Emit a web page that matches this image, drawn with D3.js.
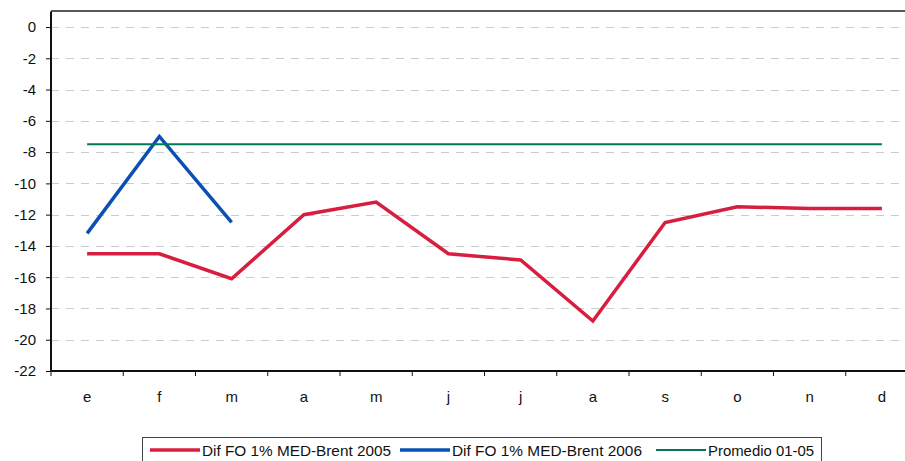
<!DOCTYPE html>
<html>
<head>
<meta charset="utf-8">
<script src="https://cdn.jsdelivr.net/npm/d3@7"></script>
<style>
  html, body { margin: 0; padding: 0; background: #fff; }
  svg { display: block; font-family: "Liberation Sans", Arial, sans-serif; }
</style>
</head>
<body>
<svg id="chart" width="905" height="461"></svg>
<script>
// months (Spanish initials)
const months = ["e", "f", "m", "a", "m", "j", "j", "a", "s", "o", "n", "d"];
const dif2005 = [-14.5, -14.5, -16.1, -12.0, -11.2, -14.5, -14.9, -18.8, -12.5, -11.5, -11.6, -11.6];
const dif2006 = [-13.2, -7.0, -12.5];
const promedio = [-7.5, -7.5, -7.5, -7.5, -7.5, -7.5, -7.5, -7.5, -7.5, -7.5, -7.5, -7.5];
const yTicks = [0, -2, -4, -6, -8, -10, -12, -14, -16, -18, -20, -22];

const series = [
  { name: "Dif FO 1% MED-Brent 2005", values: dif2005, color: "#d81e3e", width: 3.5, textLen: 189 },
  { name: "Dif FO 1% MED-Brent 2006", values: dif2006, color: "#0a50b4", width: 3.5, textLen: 190 },
  { name: "Promedio 01-05", values: promedio, color: "#007850", width: 2, textLen: 106 }
];

const svg = d3.select("#chart");
const plot = { left: 51, top: 11.4, right: 918, bottom: 371 };

// band index -> x position (chart is clipped on the right like the original)
const x = d3.scaleBand().domain(d3.range(months.length)).range([plot.left, plot.right]);
const y = d3.scaleLinear().domain([-22, 1]).range([plot.bottom, plot.top]);
const xc = i => x(i) + x.bandwidth() / 2;

// gridlines
svg.append("g")
  .selectAll("line")
  .data(yTicks.filter(v => v !== -22))
  .join("line")
  .attr("x1", plot.left).attr("x2", 905)
  .attr("y1", d => Math.round(y(d)) + 0.5).attr("y2", d => Math.round(y(d)) + 0.5)
  .attr("stroke", "#c8cccc")
  .attr("stroke-width", 1)
  .attr("stroke-dasharray", "8,7");

// plot border
svg.append("line")
  .attr("x1", plot.left).attr("x2", 905)
  .attr("y1", 11).attr("y2", 11)
  .attr("stroke", "#222").attr("stroke-width", 1.5);

// y axis
const yAxis = svg.append("g")
  .attr("transform", `translate(${plot.left},0)`)
  .call(d3.axisLeft(y).tickValues(yTicks).tickSize(5).tickPadding(10).tickFormat(d3.format("d")));
yAxis.select(".domain").attr("stroke", "#111").attr("stroke-width", 2)
  .attr("d", `M0,${plot.top}V${plot.bottom}`);
yAxis.selectAll(".tick line").attr("stroke", "#111");
yAxis.selectAll(".tick text")
  .attr("font-size", 15).attr("fill", "#111")
  .attr("font-family", "\"Liberation Sans\", Arial, sans-serif")
  .text(d => d < 0 ? "-" + Math.abs(d) : d);

// x axis
const xAxis = svg.append("g").attr("transform", `translate(0,${plot.bottom})`);
xAxis.append("line")
  .attr("x1", plot.left).attr("x2", 905)
  .attr("stroke", "#111").attr("stroke-width", 2);
xAxis.selectAll(".xt")
  .data(d3.range(months.length + 1))
  .join("line")
  .attr("class", "xt")
  .attr("x1", i => i < months.length ? x(i) : plot.right)
  .attr("x2", i => i < months.length ? x(i) : plot.right)
  .attr("y1", 0).attr("y2", 5)
  .attr("stroke", "#111");
xAxis.selectAll(".xl")
  .data(months)
  .join("text")
  .attr("class", "xl")
  .attr("x", (d, i) => xc(i))
  .attr("y", 31)
  .attr("text-anchor", "middle")
  .attr("font-size", 15)
  .attr("fill", "#111")
  .text(d => d);

// series lines
const line = d3.line().x((d, i) => xc(i)).y(d => y(d));
svg.append("g")
  .selectAll("path")
  .data(series)
  .join("path")
  .attr("fill", "none")
  .attr("stroke", d => d.color)
  .attr("stroke-width", d => d.width)
  .attr("stroke-linejoin", "miter")
  .attr("d", d => line(d.values));

// legend
const legend = svg.append("g");
legend.append("rect")
  .attr("x", 142.5).attr("y", 437.5)
  .attr("width", 679).attr("height", 40)
  .attr("fill", "#fff").attr("stroke", "#444").attr("stroke-width", 1);

const legendX = [150, 400, 656];
const legendItems = legend.selectAll(".li")
  .data(series)
  .join("g")
  .attr("class", "li")
  .attr("transform", (d, i) => `translate(${legendX[i]},450)`);
legendItems.append("line")
  .attr("x1", 0).attr("x2", 50)
  .attr("stroke", d => d.color)
  .attr("stroke-width", d => d.width);
legendItems.append("text")
  .attr("x", 52).attr("y", 5.5)
  .attr("font-size", 15)
  .attr("fill", "#111")
  .attr("textLength", d => d.textLen)
  .attr("lengthAdjust", "spacingAndGlyphs")
  .text(d => d.name);
</script>
</body>
</html>
